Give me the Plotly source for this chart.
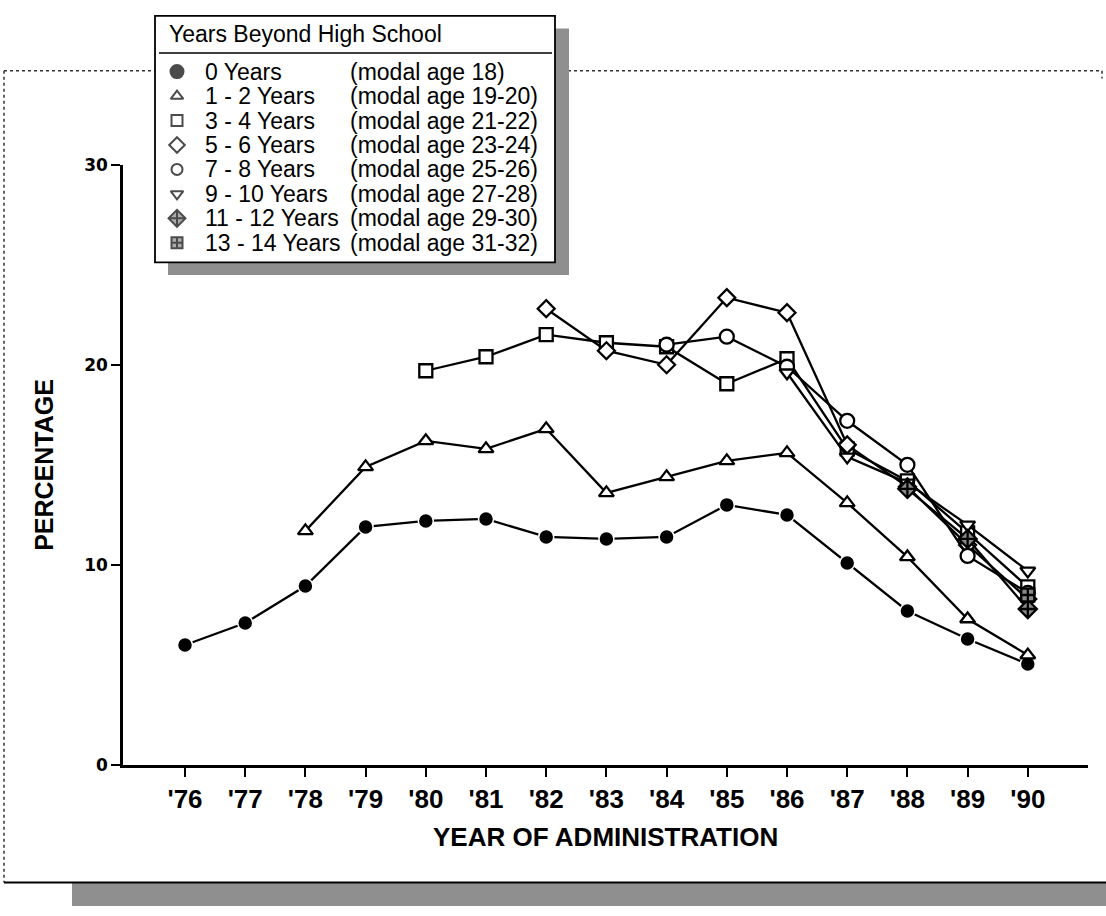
import plotly.graph_objects as go

# ---------------- data ----------------
years = list(range(1976, 1991))
year_labels = ["'76", "'77", "'78", "'79", "'80", "'81", "'82", "'83",
               "'84", "'85", "'86", "'87", "'88", "'89", "'90"]
y_tick_vals = [0, 10, 20, 30]

series_names = ["0 Years", "1 - 2 Years", "3 - 4 Years", "5 - 6 Years",
                "7 - 8 Years", "9 - 10 Years", "11 - 12 Years", "13 - 14 Years"]
modal_ages = ["(modal age 18)", "(modal age 19-20)", "(modal age 21-22)",
              "(modal age 23-24)", "(modal age 25-26)", "(modal age 27-28)",
              "(modal age 29-30)", "(modal age 31-32)"]
start_years = [1976, 1978, 1980, 1982, 1984, 1986, 1988, 1990]

yrs_0 = [6.0, 7.1, 8.95, 11.9, 12.2, 12.3, 11.4, 11.3, 11.4, 13.0, 12.5, 10.1, 7.7, 6.3, 5.05]
yrs_1_2 = [11.7, 14.9, 16.2, 15.8, 16.8, 13.6, 14.4, 15.2, 15.6, 13.1, 10.4, 7.3, 5.5]
yrs_3_4 = [19.7, 20.4, 21.5, 21.1, 20.9, 19.05, 20.3, 15.8, 14.2, 11.6, 8.9]
yrs_5_6 = [22.8, 20.7, 20.0, 23.35, 22.6, 16.0, 13.9, 11.0, 8.3]
yrs_7_8 = [21.0, 21.4, 19.9, 17.2, 15.0, 10.45, 8.6]
yrs_9_10 = [19.6, 15.4, 14.1, 12.0, 9.7]
yrs_11_12 = [13.8, 11.3, 7.8]
yrs_13_14 = [8.5]

series_values = [yrs_0, yrs_1_2, yrs_3_4, yrs_5_6, yrs_7_8, yrs_9_10, yrs_11_12, yrs_13_14]

# ---------------- styles ----------------
symbols = ["circle", "triangle-up", "square", "diamond", "circle",
           "triangle-down", "diamond-cross", "square-cross"]
fills = ["black", "white", "white", "white", "white", "white", "#8a8a8a", "#8a8a8a"]
sizes = [15, 13, 13, 13, 14, 13, 14, 13]

W, H = 1106, 916
PL, PR, PT, PB = 123, 1088, 158, 772  # plot area in page pixels
X_MIN = years[0] - (185 - PL) / 60.2
X_MAX = X_MIN + (PR - PL) / 60.2

fig = go.Figure()

for name, y0, vals, sym, fc, sz in zip(series_names, start_years, series_values,
                                        symbols, fills, sizes):
    xs = [y for y in years if y >= y0][:len(vals)]
    fig.add_trace(go.Scatter(
        x=xs, y=vals, mode="lines+markers", name=name,
        line=dict(color="black", width=2.3),
        marker=dict(symbol=sym, size=sz, color=fc,
                    line=dict(color="black" if fc != "black" else "white",
                              width=2.3 if fc != "black" else 1.5)),
        xaxis="x", yaxis="y", showlegend=False, cliponaxis=False))

# ---------------- legend (drawn manually in page pixel coordinates) ----------------
LEG_L, LEG_R, LEG_T, LEG_B = 155, 555, 6, 258
ROW0, ROW_STEP = 63, 25
MARK_X, NAME_X, AGE_X = 177, 203, 348
row_y = [ROW0 + i * ROW_STEP for i in range(len(series_names))]

fig.add_trace(go.Scatter(
    x=[MARK_X] * len(series_names), y=row_y, mode="markers",
    marker=dict(symbol=symbols, size=[13, 11, 11, 12, 11, 11, 13, 11], color=fills,
                line=dict(color="black", width=2)),
    xaxis="x2", yaxis="y2", showlegend=False, hoverinfo="skip"))

LEG_FONT = dict(family="Liberation Sans, Arial, sans-serif", size=23, color="black")
annotations = [dict(x=LEG_L + 12, y=25, xref="x2", yref="y2", text="Years Beyond High School",
                    showarrow=False, xanchor="left", yanchor="middle", font=LEG_FONT)]
for name, age, ry in zip(series_names, modal_ages, row_y):
    annotations.append(dict(x=NAME_X, y=ry, xref="x2", yref="y2", text=name, showarrow=False,
                            xanchor="left", yanchor="middle", font=LEG_FONT))
    annotations.append(dict(x=AGE_X, y=ry, xref="x2", yref="y2", text=age, showarrow=False,
                            xanchor="left", yanchor="middle", font=LEG_FONT))

# axis titles
annotations.append(dict(x=(PL + PR) / 2, y=845, xref="x2", yref="y2",
                        text="<b>YEAR OF ADMINISTRATION</b>", showarrow=False,
                        xanchor="center", yanchor="middle",
                        font=dict(family="Liberation Sans, Arial, sans-serif",
                                  size=26, color="black")))
annotations.append(dict(x=44, y=(PT + PB) / 2, xref="x2", yref="y2",
                        text="<b>PERCENTAGE</b>", showarrow=False, textangle=-90,
                        xanchor="center", yanchor="middle",
                        font=dict(family="Liberation Sans, Arial, sans-serif", size=25, color="black")))

BAND_T = 892
shapes = [
    # outer dotted frame
    dict(type="line", xref="x2", yref="y2", x0=4, x1=4, y0=62, y1=BAND_T,
         line=dict(color="#333", width=1.5, dash="dot"), layer="below"),
    dict(type="line", xref="x2", yref="y2", x0=4, x1=1102, y0=62, y1=62,
         line=dict(color="#333", width=1.5, dash="dot"), layer="below"),
    dict(type="line", xref="x2", yref="y2", x0=1102, x1=1102, y0=62, y1=70,
         line=dict(color="#333", width=1.5, dash="dot"), layer="below"),
    # bottom shadow band
    dict(type="rect", xref="x2", yref="y2", x0=72, x1=W + 2, y0=BAND_T, y1=H + 2,
         fillcolor="#8f8f8f", line=dict(width=0), layer="below"),
    dict(type="line", xref="x2", yref="y2", x0=4, x1=W, y0=BAND_T, y1=BAND_T,
         line=dict(color="black", width=2), layer="below"),
    # legend shadow and box
    dict(type="rect", xref="x2", yref="y2", x0=LEG_L + 13, x1=LEG_R + 14, y0=LEG_T + 13, y1=LEG_B + 13,
         fillcolor="#8f8f8f", line=dict(width=0), layer="below"),
    dict(type="rect", xref="x2", yref="y2", x0=LEG_L, x1=LEG_R, y0=LEG_T, y1=LEG_B,
         fillcolor="white", line=dict(color="black", width=1.8), layer="below"),
    dict(type="line", xref="x2", yref="y2", x0=LEG_L + 4, x1=LEG_R - 3, y0=44, y1=44,
         line=dict(color="black", width=1.5), layer="below"),
]

fig.update_layout(
    width=W, height=H,
    margin=dict(l=0, r=0, t=0, b=0),
    paper_bgcolor="white", plot_bgcolor="rgba(0,0,0,0)",
    xaxis=dict(domain=[PL / W, PR / W], range=[X_MIN, X_MAX], tickvals=years, ticktext=year_labels,
               showline=True, linecolor="black", linewidth=2.5, ticks="outside", ticklen=9,
               tickwidth=2, tickcolor="black", showgrid=False, zeroline=False,
               tickfont=dict(family="Liberation Sans, Arial, sans-serif",
                             size=26, color="black", weight="bold"),
               anchor="y", fixedrange=True),
    yaxis=dict(domain=[(H - PB) / H, (H - PT) / H], range=[0, 30], tickvals=y_tick_vals,
               showline=True, linecolor="black", linewidth=2.5, ticks="outside", ticklen=9,
               tickwidth=2, tickcolor="black", showgrid=False, zeroline=False,
               tickfont=dict(family="DejaVu Sans, sans-serif", size=17, color="black", weight="bold"),
               anchor="x", fixedrange=True),
    xaxis2=dict(domain=[0, 1], range=[0, W], visible=False, anchor="y2", fixedrange=True),
    yaxis2=dict(domain=[0, 1], range=[H, 0], visible=False, anchor="x2", fixedrange=True),
    shapes=shapes, annotations=annotations,
)

fig.write_html("out.html", config={"displayModeBar": False},
               post_script="document.body.style.margin='0';document.body.style.overflow='hidden';")
